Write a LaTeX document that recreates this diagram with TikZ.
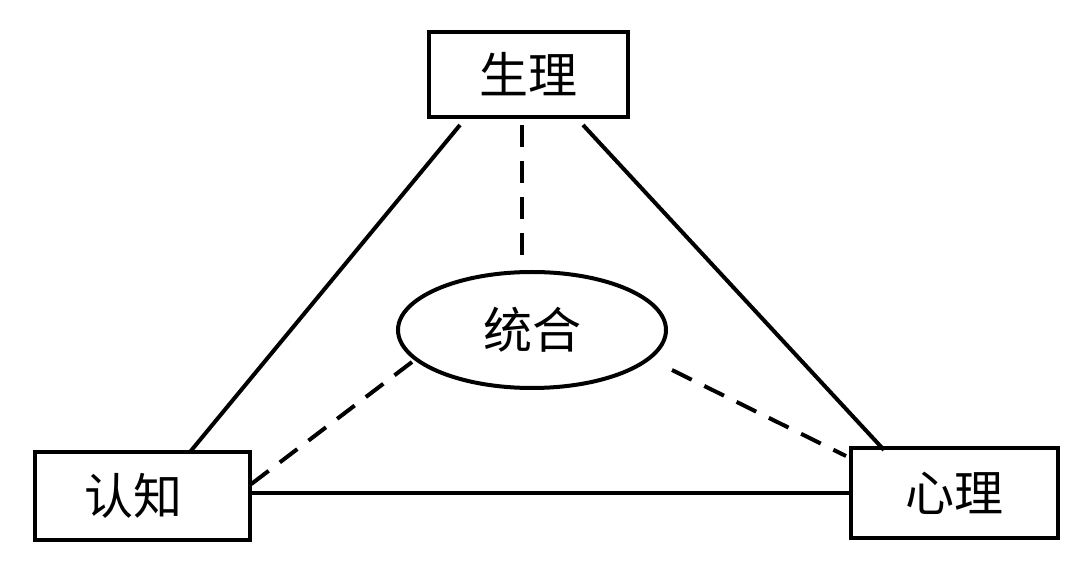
\documentclass[tikz,border=0pt]{standalone}
\usepackage{fontspec}
\newfontfamily\cjk{Noto Sans CJK SC}
\usetikzlibrary{shapes.geometric}
\begin{document}
\begin{tikzpicture}[x=1pt,y=-1pt,
  box/.style={draw=black,line width=4pt,rectangle,inner sep=0pt,font=\cjk\fontsize{49}{56}\selectfont},
  oval/.style={draw=black,line width=4pt,ellipse,inner sep=0pt,font=\cjk\fontsize{49}{56}\selectfont},
  link/.style={line width=4pt},
  dlink/.style={line width=4pt,dash pattern=on 22pt off 14pt}]
\fill[white] (0,0) rectangle (1080,569);
\useasboundingbox (0,0) rectangle (1080,569);
\node[box,minimum width=199pt,minimum height=85pt] (phys) at (528.5,74.5) {生理};
\node[box,minimum width=215pt,minimum height=88pt] (cogn) at (142.5,496) {\hspace*{-18pt}认知};
\node[box,minimum width=207pt,minimum height=90pt] (psy) at (954.5,493) {心理};
\node[oval,minimum width=268pt,minimum height=116pt] (int) at (532,330) {统合};
\coordinate (a1) at (460,125);
\coordinate (a2) at (190,452);
\coordinate (b1) at (583,125);
\coordinate (b2) at (884,450);
\coordinate (d1) at (522,125);
\coordinate (d2) at (522,262);
\coordinate (e1) at (412,362);
\coordinate (e2) at (250,485);
\coordinate (f1) at (672,370);
\coordinate (f2) at (846,456);
\draw[link] (a1) -- (a2);
\draw[link] (b1) -- (b2);
\draw[link] (cogn.east |- 0,493) -- (psy.west |- 0,493);
\draw[dlink] (d1) -- (d2);
\draw[dlink] (e1) -- (e2);
\draw[dlink] (f1) -- (f2);
\end{tikzpicture}
\end{document}
